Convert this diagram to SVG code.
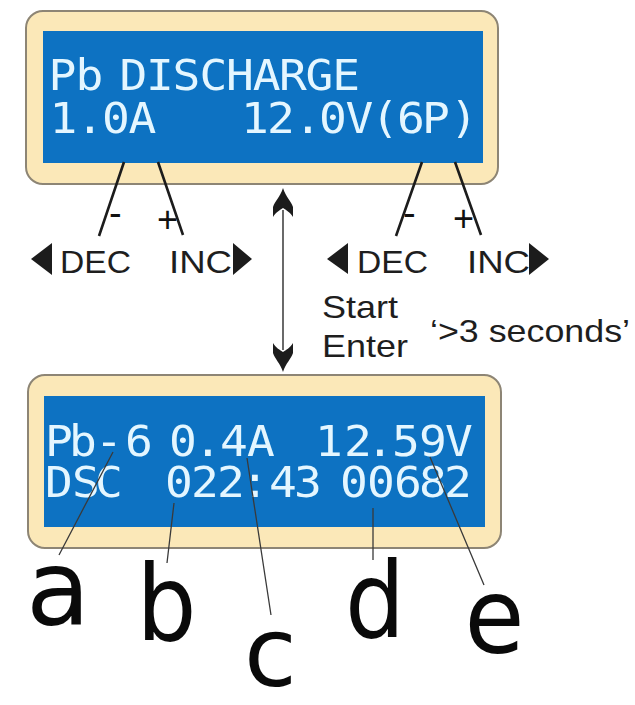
<svg xmlns="http://www.w3.org/2000/svg" width="635" height="705" viewBox="0 0 635 705">
<style>
.panel{fill:#fbe8b8;stroke:#8d8574;stroke-width:2}
.screen{fill:#0a72c2}
.lcd{font-family:"DejaVu Sans Mono",monospace;font-size:42px;fill:#e4f6ff}
.lbl{font-family:"Liberation Sans",Arial,sans-serif;font-size:32px;fill:#1e1e1e}
.sign{font-family:"Liberation Sans",Arial,sans-serif;fill:#111}
.big{font-family:"DejaVu Sans",sans-serif;font-size:105px;fill:#0a0a0a}
.thick{stroke:#1c1c1c;stroke-width:2.6;fill:none}
.thin{stroke:#3a3a3a;stroke-width:1.3;fill:none}
.tri{fill:#1c1c1c}
</style>
<defs>
<filter id="soft" x="-5%" y="-5%" width="110%" height="110%"><feGaussianBlur stdDeviation="0.45"/></filter>
</defs>
<rect width="635" height="705" fill="#fff"/>
<g id="display-top" filter="url(#soft)">
<rect class="panel" x="26" y="11" width="472" height="173" rx="17"/>
<rect class="screen" x="43" y="31" width="440" height="132"/>
<g transform="scale(1.1 1)">
<text class="lcd" y="90" x="44.2 68.7 90 108.7 132.7 156.9 181.3 205.5 229.8 253.6 277.8 302">Pb DISCHARGE</text>
<text class="lcd" y="133" x="45 69 92.7 116.9">1.0A</text>
<text class="lcd" y="133" x="219 242.7 267.3 290 314 337.3 361 383.6 409">12.0V(6P)</text>
</g>
</g>
<g id="display-bottom" filter="url(#soft)">
<rect class="panel" x="28" y="375" width="473" height="173" rx="17"/>
<rect class="screen" x="44" y="396" width="441" height="131"/>
<g transform="scale(1.1 1)">
<text class="lcd" y="456" x="40.9 62.7 86.4 113.6">Pb-6</text>
<text class="lcd" y="456" x="153.6 176.4 200 224.5">0.4A</text>
<text class="lcd" y="456" x="286.4 312.7 332.7 356.4 380.9 404.5">12.59V</text>
<text class="lcd" y="497" x="40.9 65.5 86.4">DSC</text>
<text class="lcd" y="497" x="150 173.6 197.3 219">022:</text>
<text class="lcd" y="497" x="244.5 267.3">43</text>
<text class="lcd" y="497" x="309 333.6 358.2 380.9 403.6">00682</text>
</g>
</g>
<g id="connectors">
<path class="thick" d="M124 162L99 236M158 162L183 235M422 162L396 236M455 162L481 235"/>
<path class="thin" d="M113 452L59 555M174 503L167 563M247 458L271 615M373 508V560M430 457L484 585"/>
<path d="M283 210V350" stroke="#444" stroke-width="1.6" fill="none"/>
<path class="tri" d="M283 188C286 197 291 201 293 207L293 217C290 212 286 210 283 208C280 210 276 212 273 217L273 207C275 201 280 197 283 188Z"/>
<path class="tri" d="M283 372C286 363 291 359 293 353L293 343C290 348 286 350 283 352C280 350 276 348 273 343L273 353C275 359 280 363 283 372Z"/>
</g>
<g id="dec-inc-left">
<polygon class="tri" points="31,259 52,243 52,275"/>
<text class="lbl" x="60" y="273" textLength="71" lengthAdjust="spacingAndGlyphs">DEC</text>
<text class="lbl" x="169" y="273" textLength="63" lengthAdjust="spacingAndGlyphs">INC</text>
<polygon class="tri" points="252,259 233,243 233,275"/>
<text class="sign" x="109" y="226" font-size="38">-</text>
<text class="sign" x="157" y="232" font-size="36">+</text>
</g>
<g id="dec-inc-right">
<polygon class="tri" points="327,259 348,243 348,274"/>
<text class="lbl" x="357" y="273" textLength="71" lengthAdjust="spacingAndGlyphs">DEC</text>
<text class="lbl" x="467" y="273" textLength="63" lengthAdjust="spacingAndGlyphs">INC</text>
<polygon class="tri" points="549,259 529,243 529,275"/>
<text class="sign" x="403" y="226" font-size="38">-</text>
<text class="sign" x="453" y="231" font-size="36">+</text>
</g>
<g id="start-enter">
<text class="lbl" x="322" y="318" textLength="76" lengthAdjust="spacingAndGlyphs">Start</text>
<text class="lbl" x="322" y="357" textLength="86" lengthAdjust="spacingAndGlyphs">Enter</text>
<text class="lbl" x="430" y="342" textLength="200" lengthAdjust="spacingAndGlyphs">‘&gt;3 seconds’</text>
</g>
<g id="labels">
<text class="big" x="26" y="625">a</text>
<text class="big" x="136.5" y="640" textLength="60" lengthAdjust="spacingAndGlyphs">b</text>
<text class="big" x="244" y="686" style="font-size:96px">c</text>
<text class="big" x="345" y="637" textLength="60" lengthAdjust="spacingAndGlyphs">d</text>
<text class="big" x="464.5" y="653" textLength="60" lengthAdjust="spacingAndGlyphs">e</text>
</g>
</svg>
